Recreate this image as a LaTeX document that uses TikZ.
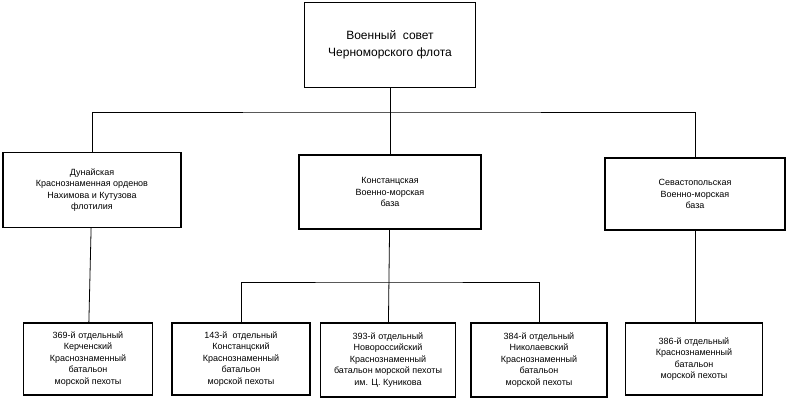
\documentclass[tikz,border=0pt]{standalone}
\usepackage{fontspec}
\setmainfont{Liberation Sans}
\usetikzlibrary{positioning}

\begin{document}
\begin{tikzpicture}[x=1pt, y=-1pt,
        box/.style={rectangle, draw, line width=1.1pt, align=center, inner sep=2pt,
                    font=\fontsize{9}{11.5}\selectfont},
        topbox/.style={box, line width=1.8pt, font=\fontsize{12}{17}\selectfont},
        line/.style={draw, line width=0.8pt}
    ]
    \useasboundingbox (0,0) rectangle (790,400);
    \node [topbox, minimum width=171pt, minimum height=85pt] (council) at (390,45) {Военный\ \ совет\\Черноморского флота};

    \node [box, minimum width=178pt, minimum height=75pt] (danube) at (92,190) {Дунайская\\Краснознаменная орденов\\Нахимова и Кутузова\\флотилия};
    \node [box, minimum width=182pt, minimum height=74pt] (constanta) at (390,192) {Констанцская\\Военно-морская\\база};
    \node [box, minimum width=180pt, minimum height=72pt] (sevastopol) at (695,194) {Севастопольская\\Военно-морская\\база};

    \node [box, minimum width=129pt, minimum height=72pt] (bat369) at (88,359) {369-й отдельный\\Керченский\\Краснознаменный\\батальон\\морской пехоты};
    \node [box, minimum width=138pt, minimum height=72pt] (bat143) at (241,359) {143-й\ \ отдельный\\Констанцский\\Краснознаменный\\батальон\\морской пехоты};
    \node [box, minimum width=135pt, minimum height=74pt] (bat393) at (388,360) {393-й отдельный\\Новороссийский\\Краснознаменный\\батальон морской пехоты\\им. Ц. Куникова};
    \node [box, minimum width=136pt, minimum height=74pt] (bat384) at (539,360) {384-й отдельный\\Николаевский\\Краснознаменный\\батальон\\морской пехоты};
    \node [box, minimum width=137pt, minimum height=72pt] (bat386) at (694,359) {386-й отдельный\\Краснознаменный\\батальон\\морской пехоты};

    \coordinate (bus) at (390,112);
    \coordinate (subbus) at (388,282);

    % upper level
    \draw [line] (council) -- (bus);
    \draw [line] (danube.north) |- (bus) -| (sevastopol.north);
    \draw [line] (bus) -- (constanta);

    % lower level
    \draw [line] (danube) -- (bat369);
    \draw [line] (sevastopol.south) -- (sevastopol.south |- bat386.north);
    \draw [line] (constanta) -- (bat393);
    \draw [line] (bat143.north) |- (subbus) -| (bat384.north);
\end{tikzpicture}
\end{document}
